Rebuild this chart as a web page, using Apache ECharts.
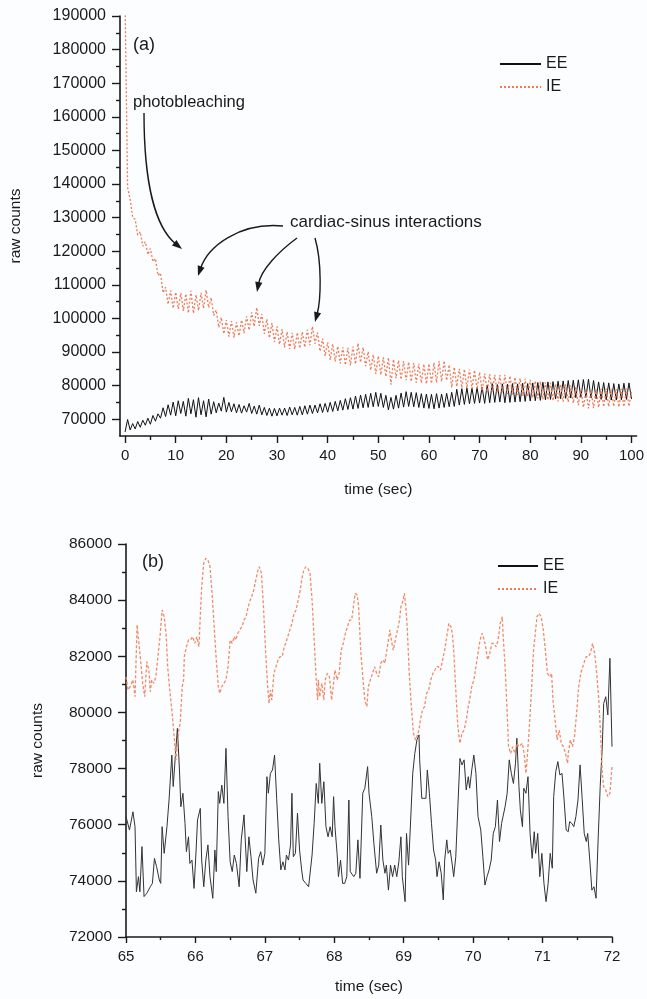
<!DOCTYPE html>
<html>
<head>
<meta charset="utf-8">
<script src="https://cdn.jsdelivr.net/npm/echarts@6/dist/echarts.min.js"></script>
<style>
  html, body { margin: 0; padding: 0; background: #fcfdff; }
  #chart { width: 647px; height: 999px; }
</style>
</head>
<body>
<div id="chart"></div>
<script>
// ---- panel (a): 0..100 s, sampled every 0.5 s ----
const TOP_T0 = 0;
const TOP_DT = 0.5;
const TOP_EE = [
  66200, 69900, 66800, 68700, 67100, 69300, 67600, 69700, 68200, 70300,
  68500, 71100, 69400, 71600, 70300, 73400, 70800, 74300, 71200, 75100,
  71000, 75500, 71700, 75300, 70900, 76200, 71600, 75800, 70600, 76400,
  71300, 75500, 70700, 76000, 71500, 75200, 71900, 74800, 72400, 76500,
  72100, 75000, 72200, 74600, 71900, 74400, 71800, 74000, 72100, 74700,
  71700, 73900, 71500, 74200, 71300, 73500, 71100, 73300, 70900, 73200,
  71000, 73300, 71200, 73300, 71100, 73600, 71300, 73500, 71200, 73800,
  71300, 74000, 71500, 74200, 71700, 74200, 71900, 74600, 72000, 74700,
  72100, 75000, 72300, 75300, 72500, 75600, 72700, 76100, 72900, 76400,
  73000, 76900, 73200, 77200, 73400, 77400, 73500, 77700, 73700, 78000,
  73800, 77700, 73500, 77100, 72800, 76500, 73000, 77100, 73300, 77800,
  73600, 78200, 73800, 78000, 73700, 77900, 73500, 77600, 73300, 77500,
  73200, 77400, 73100, 77600, 73300, 77500, 73500, 77700, 73700, 78000,
  73800, 78900, 74200, 79100, 74400, 79300, 74600, 79200, 74700, 79400,
  74800, 79500, 74700, 80200, 74900, 80600, 75000, 80300, 75100, 80500,
  74900, 80400, 75000, 80600, 75100, 80500, 75200, 80700, 75300, 80600,
  75400, 80800, 75500, 80900, 75600, 81000, 75800, 81100, 75900, 81200,
  76000, 81300, 76100, 81400, 76200, 81500, 76300, 81600, 76400, 81700,
  76500, 81800, 76500, 81900, 76300, 81500, 76100, 81100, 75900, 80900,
  75800, 80800, 75700, 80600, 75700, 80500, 75800, 80700, 75900, 80800,
  76000
];
const TOP_IE = [
  195000, 139000, 135500, 130000, 129500, 124800, 125800, 121500, 122800, 119000,
  120800, 116900, 117800, 112800, 113500, 107600, 109300, 104200, 108300, 103000,
  107800, 102800, 107500, 102200, 107300, 101600, 108200, 101500, 107000, 102300,
  107600, 103000, 108400, 103200, 106200, 100900, 102500, 97300, 100300, 95400,
  99500, 94600, 99200, 94300, 98800, 94800, 99500, 95600, 100600, 96500,
  101800, 97600, 103200, 97800, 101300, 95400, 99800, 94200, 98600, 93000,
  97600, 92300, 96800, 91400, 96000, 90900, 95700, 90800, 95800, 91100,
  96000, 91400, 96600, 92000, 97600, 92500, 95800, 90200, 94000, 88800,
  92900, 87600, 92400, 87200, 91700, 86600, 91400, 86100, 91200, 86000,
  91600, 86400, 92600, 86900, 91400, 85800, 90100, 84600, 89200, 83500,
  88800, 83200, 88400, 82700, 88300, 80300, 87800, 82200, 87500, 81800,
  87300, 81600, 87000, 81200, 86700, 80900, 86500, 80800, 86400, 80500,
  86500, 80600, 86800, 80900, 87300, 81200, 87400, 81500, 86200, 79400,
  85500, 79700, 85000, 79300, 84900, 79200, 84800, 79100, 84600, 78900,
  84000, 78400, 83600, 78200, 83400, 78000, 83200, 77800, 83100, 77700,
  83200, 77500, 82900, 77400, 82500, 77200, 82200, 76900, 82000, 76700,
  81700, 76400, 81400, 76200, 81200, 75900, 81000, 75700, 80800, 75500,
  80500, 75300, 80400, 75200, 80400, 75100, 80000, 74800, 79500, 74200,
  78900, 73500, 78500, 73200, 78600, 73300, 78800, 73500, 79000, 73700,
  79100, 73700, 79000, 73800, 78900, 73600, 79000, 73700, 79100, 73800,
  78600
];
const TOP_X_TICKS = [0, 10, 20, 30, 40, 50, 60, 70, 80, 90, 100];
const TOP_X_MINOR = [5, 15, 25, 35, 45, 55, 65, 75, 85, 95];
const TOP_Y_TICKS = [70000, 80000, 90000, 100000, 110000, 120000, 130000, 140000, 150000, 160000, 170000, 180000, 190000];
const TOP_Y_MINOR = [75000, 85000, 95000, 105000, 115000, 125000, 135000, 145000, 155000, 165000, 175000, 185000];

// ---- panel (b): 65..72 s ----
const BOT_EE_T = [
  65.00, 65.05, 65.10, 65.13, 65.15, 65.18, 65.20, 65.23, 65.26, 65.30, 65.35, 65.38, 65.41, 65.44, 65.48, 65.50,
  65.52, 65.55, 65.59, 65.62, 65.66, 65.68, 65.71, 65.74, 65.77, 65.79, 65.82, 65.85, 65.87, 65.90, 65.92, 65.95,
  65.98, 66.01, 66.03, 66.07, 66.09, 66.12, 66.15, 66.18, 66.21, 66.25, 66.28, 66.30, 66.33, 66.35, 66.38, 66.41,
  66.44, 66.47, 66.50, 66.53, 66.56, 66.59, 66.63, 66.66, 66.70, 66.74, 66.77, 66.80, 66.83, 66.87, 66.91, 66.94,
  66.97, 67.00, 67.03, 67.05, 67.08, 67.11, 67.14, 67.17, 67.20, 67.23, 67.26, 67.29, 67.31, 67.34, 67.37, 67.39,
  67.41, 67.44, 67.47, 67.50, 67.53, 67.55, 67.59, 67.63, 67.65, 67.68, 67.71, 67.74, 67.77, 67.79, 67.82, 67.85,
  67.88, 67.91, 67.94, 67.97, 67.99, 68.01, 68.04, 68.06, 68.09, 68.12, 68.15, 68.18, 68.21, 68.23, 68.25, 68.28,
  68.31, 68.34, 68.37, 68.41, 68.44, 68.48, 68.50, 68.54, 68.57, 68.61, 68.64, 68.67, 68.70, 68.73, 68.75, 68.78,
  68.81, 68.84, 68.87, 68.90, 68.93, 68.96, 68.98, 69.02, 69.04, 69.07, 69.10, 69.13, 69.16, 69.19, 69.22, 69.23,
  69.26, 69.29, 69.32, 69.34, 69.37, 69.40, 69.43, 69.46, 69.48, 69.51, 69.54, 69.57, 69.59, 69.62, 69.64, 69.67,
  69.70, 69.72, 69.75, 69.78, 69.81, 69.84, 69.87, 69.90, 69.93, 69.95, 69.98, 70.01, 70.04, 70.07, 70.11, 70.14,
  70.17, 70.20, 70.23, 70.26, 70.29, 70.32, 70.35, 70.38, 70.41, 70.43, 70.46, 70.49, 70.52, 70.55, 70.58, 70.61,
  70.63, 70.66, 70.68, 70.71, 70.73, 70.76, 70.79, 70.82, 70.85, 70.88, 70.90, 70.93, 70.96, 70.99, 71.02, 71.05,
  71.08, 71.11, 71.14, 71.16, 71.19, 71.22, 71.25, 71.28, 71.31, 71.34, 71.37, 71.39, 71.42, 71.45, 71.48, 71.51,
  71.54, 71.57, 71.60, 71.63, 71.65, 71.68, 71.71, 71.74, 71.77, 71.80, 71.83, 71.86, 71.88, 71.91, 71.94, 71.97,
  72.00
];
const BOT_EE = [
  76290, 75810, 76460, 75930, 73610, 74150, 73610, 75220, 73440, 73560, 73790, 73910, 74800, 74510, 74030, 73910,
  75930, 74980, 75930, 76880, 78480, 77360, 78420, 79430, 77950, 76640, 77120, 76050, 75040, 75570, 74620, 74740,
  73730, 75100, 76170, 76580, 74740, 73790, 74740, 75280, 74150, 73380, 75100, 74330, 77180, 76760, 77410, 76760,
  78720, 76290, 74680, 74330, 74920, 74620, 73790, 75460, 76350, 74330, 75570, 74860, 74030, 73560, 74800, 75040,
  74560, 74980, 77710, 77120, 77830, 77950, 78480, 76940, 75460, 74390, 74680, 74390, 74920, 74740, 75280, 77120,
  74860, 74980, 76410, 75100, 74390, 74030, 73910, 73790, 73790, 74920, 76050, 77470, 76760, 78190, 76760, 77530,
  75930, 75570, 75930, 75570, 77000, 75930, 74980, 74150, 74740, 73910, 73910, 74150, 76880, 74330, 74330, 74150,
  74270, 75460, 74090, 77120, 77300, 78070, 77120, 76290, 75340, 74270, 74560, 75990, 74740, 74270, 74560, 73670,
  74560, 74150, 74560, 74150, 74680, 75570, 74150, 73260, 75690, 74560, 76170, 77830, 78540, 79020, 79200, 78310,
  76940, 76940, 76940, 77950, 77120, 76050, 75100, 74740, 74150, 74680, 74270, 73320, 74740, 75460, 74980, 75100,
  74560, 74150, 74860, 76640, 78360, 78130, 78310, 77240, 77710, 77300, 77950, 78480, 77830, 76290, 75810, 74860,
  73850, 74150, 74390, 74740, 75690, 75930, 76880, 75400, 76050, 75990, 76640, 77120, 78310, 77830, 77470, 78190,
  79080, 77360, 76520, 75930, 77300, 77120, 77710, 75690, 74800, 75750, 74980, 75690, 74150, 74980, 73910, 73260,
  73910, 74980, 74450, 77000, 77890, 78250, 77770, 77830, 76880, 75810, 75750, 76110, 76050, 75930, 76290, 76880,
  78130, 76940, 75690, 75400, 75690, 74740, 73670, 73790, 73380, 75460, 77360, 78780, 80320, 80560, 79910, 81930,
  78780
];
const BOT_IE_T = [
  65.00, 65.03, 65.06, 65.10, 65.13, 65.16, 65.18, 65.21, 65.24, 65.27, 65.30, 65.33, 65.35, 65.37, 65.40, 65.43,
  65.46, 65.49, 65.52, 65.55, 65.58, 65.60, 65.63, 65.66, 65.69, 65.72, 65.74, 65.76, 65.78, 65.81, 65.83, 65.84,
  65.87, 65.90, 65.93, 65.96, 65.99, 66.02, 66.05, 66.07, 66.09, 66.12, 66.15, 66.18, 66.21, 66.24, 66.27, 66.30,
  66.33, 66.35, 66.38, 66.41, 66.44, 66.47, 66.50, 66.53, 66.56, 66.58, 66.61, 66.64, 66.67, 66.70, 66.73, 66.76,
  66.79, 66.81, 66.84, 66.87, 66.90, 66.92, 66.95, 66.98, 67.01, 67.04, 67.06, 67.08, 67.10, 67.13, 67.16, 67.19,
  67.22, 67.25, 67.28, 67.30, 67.33, 67.36, 67.39, 67.42, 67.45, 67.48, 67.51, 67.53, 67.56, 67.59, 67.62, 67.65,
  67.68, 67.71, 67.74, 67.76, 67.77, 67.79, 67.82, 67.85, 67.87, 67.90, 67.93, 67.96, 67.99, 68.01, 68.04, 68.07,
  68.10, 68.13, 68.16, 68.19, 68.22, 68.25, 68.27, 68.30, 68.33, 68.35, 68.38, 68.41, 68.44, 68.47, 68.49, 68.52,
  68.55, 68.58, 68.61, 68.64, 68.67, 68.70, 68.73, 68.75, 68.78, 68.80, 68.83, 68.85, 68.88, 68.91, 68.94, 68.96,
  68.98, 69.01, 69.03, 69.05, 69.08, 69.11, 69.14, 69.17, 69.19, 69.22, 69.24, 69.27, 69.30, 69.33, 69.36, 69.39,
  69.42, 69.45, 69.47, 69.50, 69.53, 69.56, 69.59, 69.62, 69.65, 69.68, 69.70, 69.72, 69.75, 69.78, 69.81, 69.84,
  69.87, 69.90, 69.93, 69.95, 69.98, 70.01, 70.04, 70.07, 70.10, 70.13, 70.16, 70.18, 70.21, 70.24, 70.27, 70.30,
  70.33, 70.36, 70.39, 70.42, 70.43, 70.46, 70.49, 70.51, 70.54, 70.57, 70.60, 70.63, 70.66, 70.68, 70.71, 70.74,
  70.76, 70.78, 70.81, 70.84, 70.87, 70.90, 70.92, 70.95, 70.98, 71.01, 71.04, 71.07, 71.10, 71.13, 71.15, 71.18,
  71.21, 71.24, 71.27, 71.30, 71.33, 71.36, 71.37, 71.40, 71.43, 71.46, 71.49, 71.52, 71.55, 71.58, 71.61, 71.63,
  71.66, 71.69, 71.72, 71.75, 71.78, 71.81, 71.84, 71.86, 71.88, 71.91, 71.94, 71.97, 72.00
];
const BOT_IE = [
  81270, 80800, 80920, 81160, 80560, 83120, 83060, 81870, 81040, 80560, 81810, 81510, 80740, 81160, 81040, 81270,
  81990, 82700, 83650, 83410, 82700, 81630, 80800, 80090, 79260, 78310, 78840, 79370, 79610, 80920, 81160, 81990,
  82340, 82580, 82580, 82700, 82460, 82700, 82340, 83410, 84480, 85310, 85490, 85430, 85190, 84240, 83060, 81870,
  80920, 80680, 80920, 81040, 81160, 81630, 82580, 82460, 82700, 82580, 82820, 82940, 83060, 83290, 83410, 83770,
  84010, 84120, 84360, 84720, 85070, 85190, 84960, 83770, 82220, 80920, 80320, 80800, 80440, 81390, 81630, 81870,
  81990, 81990, 82340, 82460, 82700, 82940, 83170, 83530, 83650, 84010, 84360, 84720, 85070, 85190, 85130, 84960,
  84010, 82580, 81160, 80440, 81160, 80560, 81040, 80440, 81160, 81390, 81270, 80440, 81040, 81510, 81160, 81390,
  82220, 82460, 82820, 83060, 83290, 83290, 83650, 84240, 84180, 83770, 82220, 81270, 80440, 80210, 80920, 81160,
  81390, 81630, 81390, 81270, 81750, 81870, 81750, 82110, 82580, 82940, 82460, 82220, 82580, 82940, 83290, 83770,
  83890, 84240, 83770, 83060, 81390, 80210, 79260, 79020, 79140, 79370, 79730, 80090, 80210, 80680, 80800, 81160,
  81390, 81510, 81630, 81630, 81510, 81870, 82220, 82700, 83170, 83060, 82820, 82220, 80800, 79490, 78900, 79260,
  79370, 79730, 80210, 80440, 80920, 81160, 81630, 82110, 82580, 82820, 82580, 82340, 81870, 82110, 82460, 82460,
  82340, 82580, 83170, 83410, 82820, 81630, 79970, 78780, 78540, 78780, 78540, 78900, 78780, 78780, 78900, 78420,
  77830, 78420, 79490, 80800, 82220, 82940, 83410, 83530, 83410, 82940, 82220, 81390, 81270, 81390, 80440, 79730,
  79020, 79370, 78900, 78780, 78540, 78190, 78540, 79020, 78780, 79140, 79970, 80920, 81390, 81630, 81870, 81990,
  81990, 82110, 82460, 82110, 81390, 80440, 79020, 77830, 77360, 77240, 77000, 77120, 78070
];
const BOT_X_TICKS = [65, 66, 67, 68, 69, 70, 71, 72];

const SERIES_NAMES = ['EE', 'IE'];
const PANEL_TAGS = ['(a)', '(b)'];
const NOTE_BLEACH = 'photobleaching';
const NOTE_SINUS = 'cardiac-sinus interactions';

const FONT = 'Liberation Sans, Arial, Helvetica, sans-serif';
const INK = '#1a1a1a';
const EE_TOP_COLOR = '#111111';
const IE_TOP_COLOR = '#f07a55';
const EE_BOT_COLOR = '#333333';
const IE_BOT_COLOR = '#f28a68';

const topEE = TOP_EE.map((v, i) => [TOP_T0 + i * TOP_DT, v]);
const topIE = TOP_IE.map((v, i) => [TOP_T0 + i * TOP_DT, v]);
const botEE = BOT_EE.map((v, i) => [BOT_EE_T[i], v]);
const botIE = BOT_IE.map((v, i) => [BOT_IE_T[i], v]);

const plain = v => String(v);
const axisLine = { show: true, onZero: false, lineStyle: { color: INK, width: 1.6 } };
const hiddenLine = { show: true, onZero: false, lineStyle: { color: INK, width: 0, opacity: 0 } };
const tickLine = { color: INK, width: 1.4 };

// curved annotation arrows (pixel layout): start, cp1, cp2, tip
const ARROWS = [
    [[144, 113], [144, 185], [156, 228], [182, 249]],
    [[283, 226], [240, 222], [208, 246], [198, 276]],
    [[297, 238], [278, 252], [261, 270], [257, 292]],
    [[315, 238], [322, 262], [321, 300], [315, 322]]
];

function arrowGraphics() {
    const out = [];
    ARROWS.forEach(a => {
        const [p0, c1, c2, tip] = a;
        let dx = tip[0] - c2[0], dy = tip[1] - c2[1];
        const len = Math.sqrt(dx * dx + dy * dy);
        dx /= len; dy /= len;
        const headL = 10, headW = 3.6;
        const bx = tip[0] - dx * headL, by = tip[1] - dy * headL;
        out.push({
            type: 'bezierCurve',
            shape: { x1: p0[0], y1: p0[1], cpx1: c1[0], cpy1: c1[1], cpx2: c2[0], cpy2: c2[1], x2: bx + dx * 2, y2: by + dy * 2 },
            style: { stroke: INK, lineWidth: 1.4, fill: null },
            z: 100
        });
        out.push({
            type: 'polygon',
            shape: { points: [tip, [bx - dy * headW, by + dx * headW], [bx + dy * headW, by - dx * headW]] },
            style: { fill: INK },
            z: 100
        });
    });
    return out;
}

const chart = echarts.init(document.getElementById('chart'), null, { renderer: 'canvas' });

chart.setOption({
    backgroundColor: '#fcfdff',
    animation: false,
    textStyle: { fontFamily: FONT },
    grid: [
        { left: 117, right: 9, top: 16, height: 420 },
        { left: 126, right: 35, top: 544, height: 393 }
    ],
    legend: [
        {
            data: SERIES_NAMES, orient: 'vertical', left: 494, top: 51,
            itemWidth: 41, itemHeight: 14, itemGap: 7,
            itemStyle: { opacity: 0 },
            textStyle: { fontSize: 16, color: INK, fontFamily: FONT }
        },
        {
            data: SERIES_NAMES, orient: 'vertical', left: 492, top: 553,
            itemWidth: 40, itemHeight: 14, itemGap: 7,
            itemStyle: { opacity: 0 },
            textStyle: { fontSize: 16, color: INK, fontFamily: FONT }
        }
    ],
    xAxis: [
        {
            type: 'value', gridIndex: 0, min: -1, max: 101,
            name: 'time (sec)', nameLocation: 'middle', nameGap: 46,
            nameTextStyle: { fontSize: 15.5, color: INK },
            axisLine: axisLine,
            axisTick: { show: true, length: 7, customValues: TOP_X_TICKS, lineStyle: tickLine },
            axisLabel: { customValues: TOP_X_TICKS, formatter: plain, fontSize: 15, color: INK, margin: 12 },
            splitLine: { show: false }
        },
        {
            type: 'value', gridIndex: 0, min: -1, max: 101, position: 'bottom', offset: 0,
            axisLine: hiddenLine,
            axisTick: { show: true, length: 4, customValues: TOP_X_MINOR, lineStyle: tickLine },
            axisLabel: { show: true, customValues: TOP_X_MINOR, formatter: () => '' },
            splitLine: { show: false }
        },
        {
            type: 'value', gridIndex: 1, min: 65, max: 72, interval: 1,
            name: 'time (sec)', nameLocation: 'middle', nameGap: 42,
            nameTextStyle: { fontSize: 15.5, color: INK },
            axisLine: axisLine,
            axisTick: { show: true, length: 6, customValues: BOT_X_TICKS, lineStyle: tickLine },
            minorTick: { show: true, splitNumber: 2, length: 3, lineStyle: tickLine },
            axisLabel: { formatter: plain, fontSize: 15, color: INK, margin: 12 },
            splitLine: { show: false }
        }
    ],
    yAxis: [
        {
            type: 'value', gridIndex: 0, min: 65000, max: 190000,
            name: 'raw counts', nameLocation: 'middle', nameGap: 96, nameRotate: 90,
            nameTextStyle: { fontSize: 15.5, color: INK },
            axisLine: axisLine,
            axisTick: { show: true, length: 8, customValues: TOP_Y_TICKS, lineStyle: tickLine },
            axisLabel: { customValues: TOP_Y_TICKS, formatter: plain, fontSize: 16, color: INK, margin: 14 },
            splitLine: { show: false }
        },
        {
            type: 'value', gridIndex: 0, min: 65000, max: 190000, position: 'left', offset: 0,
            axisLine: hiddenLine,
            axisTick: { show: true, length: 4, customValues: TOP_Y_MINOR, lineStyle: tickLine },
            axisLabel: { show: true, customValues: TOP_Y_MINOR, formatter: () => '' },
            splitLine: { show: false }
        },
        {
            type: 'value', gridIndex: 1, min: 72000, max: 86000, interval: 2000,
            name: 'raw counts', nameLocation: 'middle', nameGap: 80, nameRotate: 90,
            nameTextStyle: { fontSize: 15.5, color: INK },
            axisLine: axisLine,
            axisTick: { show: true, length: 8, lineStyle: tickLine },
            minorTick: { show: true, splitNumber: 2, length: 4, lineStyle: tickLine },
            axisLabel: { formatter: plain, fontSize: 15.5, color: INK, margin: 14 },
            splitLine: { show: false }
        }
    ],
    series: [
        {
            name: SERIES_NAMES[0], type: 'line', xAxisIndex: 0, yAxisIndex: 0,
            data: topEE, symbol: 'none', color: EE_TOP_COLOR,
            lineStyle: { color: EE_TOP_COLOR, width: 1 }
        },
        {
            name: SERIES_NAMES[1], type: 'line', xAxisIndex: 0, yAxisIndex: 0,
            data: topIE, symbol: 'none', color: IE_TOP_COLOR,
            lineStyle: { color: IE_TOP_COLOR, width: 1.3, type: [2, 2] }
        },
        {
            name: SERIES_NAMES[0], type: 'line', xAxisIndex: 2, yAxisIndex: 2,
            data: botEE, symbol: 'none', color: EE_BOT_COLOR,
            lineStyle: { color: EE_BOT_COLOR, width: 1 }
        },
        {
            name: SERIES_NAMES[1], type: 'line', xAxisIndex: 2, yAxisIndex: 2,
            data: botIE, symbol: 'none', color: IE_BOT_COLOR,
            lineStyle: { color: IE_BOT_COLOR, width: 1.3, type: [3, 2] }
        }
    ],
    graphic: [
        { type: 'text', left: 133, top: 36, style: { text: PANEL_TAGS[0], font: '18px ' + FONT, fill: INK } },
        { type: 'text', left: 142, top: 553, style: { text: PANEL_TAGS[1], font: '18px ' + FONT, fill: INK } },
        { type: 'text', left: 133, top: 94, style: { text: NOTE_BLEACH, font: '16.5px ' + FONT, fill: INK } },
        { type: 'text', left: 290, top: 214, style: { text: NOTE_SINUS, font: '17px ' + FONT, fill: INK } }
    ].concat(arrowGraphics())
});
</script>
</body>
</html>
